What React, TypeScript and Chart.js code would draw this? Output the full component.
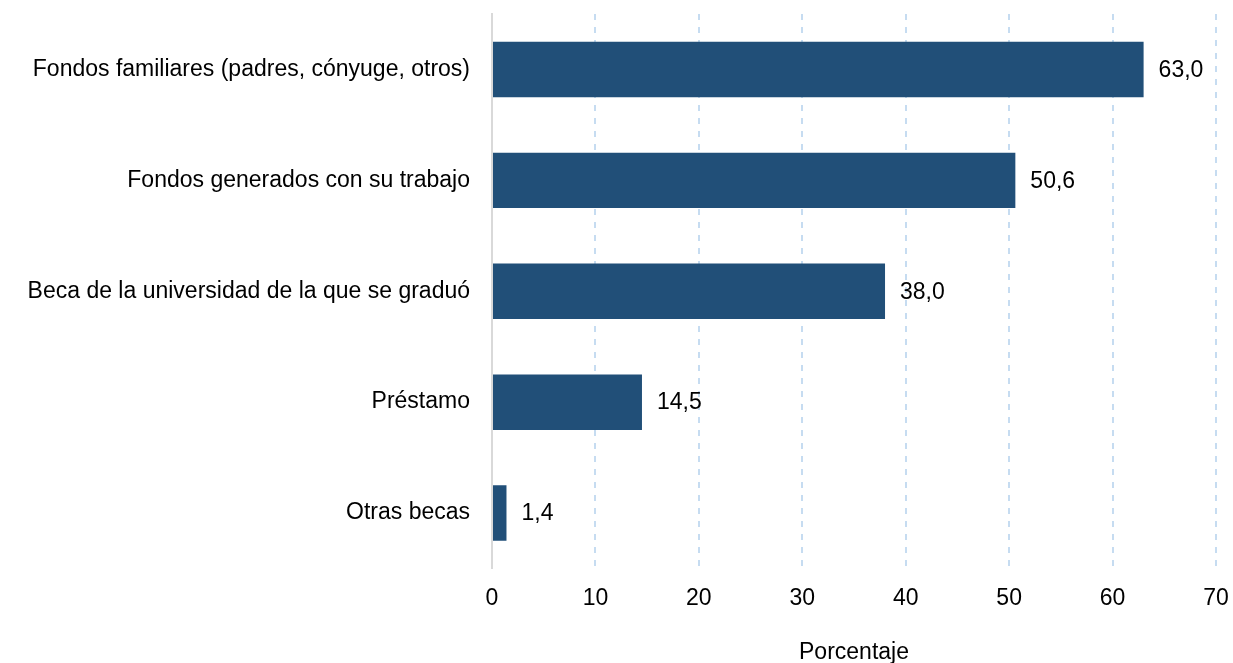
import React, { useEffect, useRef } from "react";
import { Chart, registerables } from "chart.js";

Chart.register(...registerables);

const categories: string[] = [
  "Fondos familiares (padres, cónyuge, otros)",
  "Fondos generados con su trabajo",
  "Beca de la universidad de la que se graduó",
  "Préstamo",
  "Otras becas",
];
const values: number[] = [63.0, 50.6, 38.0, 14.5, 1.4];
const xTickValues: number[] = [0, 10, 20, 30, 40, 50, 60, 70];
const axisTitle = "Porcentaje";

const FONT = "'Liberation Sans', Arial, sans-serif";
const FSIZE = 23;

const dataLabelPlugin = {
  id: "dataLabels",
  afterDatasetsDraw(chart: any) {
    const ctx = chart.ctx;
    const meta = chart.getDatasetMeta(0);
    ctx.save();
    ctx.font = `${FSIZE}px ${FONT}`;
    ctx.fillStyle = "#000";
    ctx.textAlign = "left";
    ctx.textBaseline = "middle";
    meta.data.forEach((bar: any, i: number) => {
      const v = values[i];
      const txt = v.toFixed(1).replace(".", ",");
      ctx.fillText(txt, bar.x + 15, bar.y + 1);
    });
    ctx.restore();
  },
};

export default function App() {
  const ref = useRef<HTMLCanvasElement | null>(null);
  useEffect(() => {
    if (!ref.current) return;
    const chart = new Chart(ref.current, {
      type: "bar",
      data: {
        labels: categories,
        datasets: [
          {
            data: values,
            backgroundColor: "#214f78",
            borderWidth: 0,
            categoryPercentage: 1,
            barPercentage: 0.5,
          },
        ],
      },
      options: {
        indexAxis: "y",
        animation: false,
        responsive: true,
        maintainAspectRatio: false,
        layout: { padding: { top: 14, right: 17, left: 0, bottom: 0 } },
        plugins: {
          legend: { display: false },
          tooltip: { enabled: false },
        },
        scales: {
          x: {
            min: 0,
            max: 70,
            afterBuildTicks: (scale: any) => {
              scale.ticks = xTickValues.map((v) => ({ value: v }));
            },
            afterFit: (scale: any) => {
              scale.height = 94.5;
              scale.paddingLeft = 0;
              scale.paddingRight = 0;
            },
            grid: {
              drawTicks: false,
              lineWidth: 2,
              color: "#c6dcf1",
            },
            border: { display: false, dash: [6, 7] },
            ticks: {
              padding: 16,
              color: "#000",
              font: { family: FONT, size: FSIZE },
              callback: (v: any) => String(v),
            },
            title: {
              display: true,
              text: axisTitle,
              color: "#000",
              font: { family: FONT, size: FSIZE },
              padding: { top: 0, bottom: -3 },
            },
          },
          y: {
            afterFit: (scale: any) => {
              scale.width = 492;
              scale.paddingTop = 0;
              scale.paddingBottom = 0;
            },
            grid: { display: false, drawTicks: false },
            border: { display: true, color: "#d9d9d9", width: 2 },
            ticks: {
              padding: 22,
              color: "#000",
              font: { family: FONT, size: FSIZE },
            },
          },
        },
      },
      plugins: [dataLabelPlugin],
    });
    return () => chart.destroy();
  }, []);

  return (
    <div style={{ position: "fixed", left: 0, top: 0, width: 1233, height: 663, background: "#fff" }}>
      <canvas ref={ref} />
    </div>
  );
}
